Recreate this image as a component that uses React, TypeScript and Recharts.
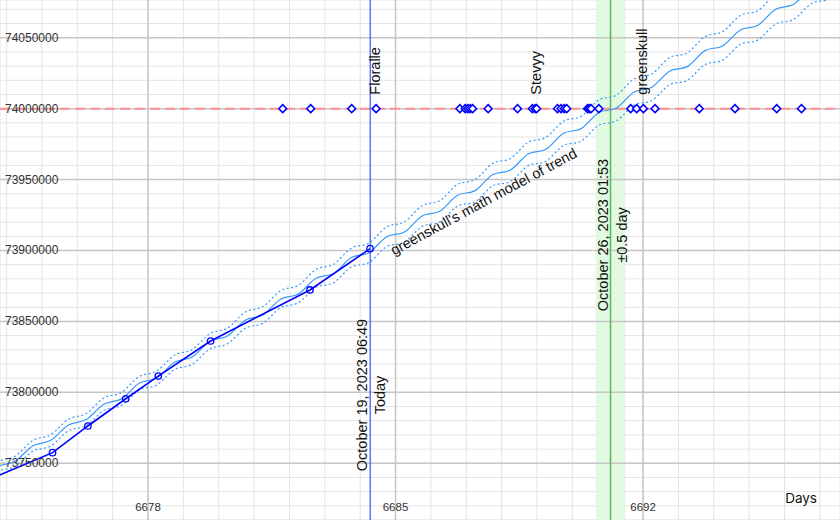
import { ComposedChart, Line, Scatter, XAxis, YAxis, CartesianGrid, ReferenceLine, ReferenceArea, ReferenceDot } from "recharts"

const W = 840
const H = 520
const font = "'Liberation Sans', Arial, sans-serif"

// axis window
const dayDomain = [6673.814, 6697.57]
const valueDomain = [73710030, 74076575]

const majorDays = [6678, 6685, 6692]
const majorValues = [73750000, 73800000, 73850000, 73900000, 73950000, 74000000, 74050000]

const range = (from: number, to: number, step: number) =>
  Array.from({ length: Math.floor((to - from) / step) + 1 }, (_, i) => from + i * step)
const minorDays = range(6674, 6697, 1)
const minorValues = range(73710000, 74070000, 10000)

// observed counts
const actualDays = [6673.0, 6675.3, 6676.3, 6677.37, 6678.29, 6679.77, 6682.58, 6684.28]
const actualValues = [73733200, 73757500, 73776300, 73795500, 73811500, 73836200, 73872200, 73901300]

// model of trend (centre line + spread of dotted band)
const modelDays = [
  6673.25, 6673.75, 6674.25, 6674.75, 6675.25, 6675.75, 6676.25, 6676.75, 6677.25, 6677.75,
  6678.25, 6678.75, 6679.25, 6679.75, 6680.25, 6680.75, 6681.25, 6681.75, 6682.25, 6682.75,
  6683.25, 6683.75, 6684.25, 6684.75, 6685.25, 6685.75, 6686.25, 6686.75, 6687.25, 6687.75,
  6688.25, 6688.75, 6689.25, 6689.75, 6690.25, 6690.75, 6691.25, 6691.75, 6692.25, 6692.75,
  6693.25, 6693.75, 6694.25, 6694.75, 6695.25, 6695.75, 6696.25, 6696.75, 6697.25, 6697.75,
]
const modelMid = [
  73737000, 73747800, 73751600, 73762400, 73766200, 73777000, 73780800, 73791600, 73795400, 73806400,
  73810200, 73821200, 73825000, 73836000, 73839800, 73850900, 73854600, 73865700, 73869300, 73880400,
  73883800, 73895000, 73898400, 73909700, 73913000, 73924300, 73927600, 73938900, 73942200, 73953500,
  73956700, 73968000, 73971300, 73982600, 73985900, 73997200, 74000500, 74011800, 74015100, 74026400,
  74029600, 74040900, 74044200, 74055500, 74058800, 74070100, 74073400, 74084700, 74088000, 74099300,
]
const modelSpread = [
  3300, 3460, 3620, 3780, 3940, 4100, 4260, 4420, 4580, 4740,
  4900, 5060, 5220, 5380, 5540, 5700, 5860, 6020, 6180, 6340,
  6500, 6660, 6820, 6980, 7140, 7300, 7460, 7620, 7780, 7940,
  8100, 8260, 8420, 8580, 8740, 8900, 9060, 9220, 9380, 9540,
  9700, 9860, 10020, 10180, 10340, 10500, 10660, 10820, 10980, 11140,
]

// guesses on the 74M line
const guessValue = 74000000
const guessDays = [
  6681.81, 6682.6, 6683.76, 6684.45, 6686.82, 6686.97, 6687.04, 6687.11, 6687.18, 6687.62,
  6688.45, 6688.87, 6688.95, 6688.99, 6689.58, 6689.68, 6689.77, 6689.84, 6690.43, 6690.48,
  6690.53, 6690.75, 6691.65, 6691.82, 6692.01, 6692.34, 6693.59, 6694.6, 6695.78, 6696.48,
]
const namedGuesses = [
  { name: "Floralle", day: 6684.45 },
  { name: "Stevyy", day: 6688.99 },
  { name: "greenskull", day: 6692.01 },
]

const todayDay = 6684.284
const predictedDay = 6691.08
const predictedBand = [6690.66, 6691.5]

const actualData = actualDays.map((day, i) => ({ day, value: actualValues[i] }))
const modelData = modelDays.map((day, i) => ({
  day,
  mid: modelMid[i],
  upper: modelMid[i] + modelSpread[i],
  lower: modelMid[i] - modelSpread[i],
}))
const guessData = guessDays.map((day) => ({ day, value: guessValue }))

const Diamond = (props: any) => {
  const { cx, cy } = props
  const s = 4
  return (
    <path
      d={`M${cx},${cy - s}L${cx + s},${cy}L${cx},${cy + s}L${cx - s},${cy}Z`}
      fill="#fff"
      stroke="#0000ff"
      strokeWidth={1.5}
    />
  )
}

const XTick = (props: any) => {
  const { x, y, payload } = props
  if (!majorDays.includes(payload.value)) return <g />
  return (
    <text x={x} y={y} textAnchor="middle" dominantBaseline="central" fontSize={11.5} fill="#333" fontFamily={font}>
      {payload.value}
    </text>
  )
}

const YTick = (props: any) => {
  const { x, y, payload } = props
  if (!majorValues.includes(payload.value)) return <g />
  return (
    <text x={x} y={y} textAnchor="start" dominantBaseline="central" fontSize={12} fill="#333" fontFamily={font}>
      {payload.value}
    </text>
  )
}

const nameLabel = (name: string) => (props: any) => {
  const { viewBox } = props
  const cx = viewBox.x + viewBox.width / 2
  const cy = viewBox.y + viewBox.height / 2
  return (
    <text
      transform={`translate(${cx - 1},${cy - 14}) rotate(-90)`}
      textAnchor="start"
      dominantBaseline="central"
      fontSize={14.5}
      fill="#111"
      fontFamily={font}
    >
      {name}
    </text>
  )
}

const dateLabel = (lines: string[], centerY: number, dx: number[]) => (props: any) => {
  const { viewBox } = props
  const y = viewBox.y + centerY
  return (
    <g>
      {lines.map((t, i) => (
        <text
          key={t}
          transform={`translate(${viewBox.x + dx[i]},${y}) rotate(-90)`}
          textAnchor="middle"
          dominantBaseline="central"
          fontSize={14.5}
          fill="#111"
          fontFamily={font}
        >
          {t}
        </text>
      ))}
    </g>
  )
}

const trendLabel = (props: any) => {
  const { viewBox } = props
  const cx = viewBox.x + viewBox.width / 2
  const cy = viewBox.y + viewBox.height / 2
  return (
    <text
      transform={`translate(${cx},${cy}) rotate(-28.3)`}
      textAnchor="middle"
      dominantBaseline="central"
      fontSize={14.5}
      fill="#111"
      fontFamily={font}
    >
      greenskull's math model of trend
    </text>
  )
}

const daysLabel = (props: any) => {
  const { viewBox } = props
  return (
    <text x={viewBox.x + viewBox.width - 23} y={H - 22} textAnchor="end" dominantBaseline="central" fontSize={13.5} fill="#111" fontFamily="Inter, sans-serif">
      Days
    </text>
  )
}

export default function App() {
  return (
    <div style={{ position: "absolute", left: 0, top: 0, width: W, height: H, background: "#fff" }}>
      <ComposedChart width={W} height={H} margin={{ top: 0, right: 0, bottom: 0, left: 0 }}>
        <CartesianGrid stroke="#e4e4e4" strokeWidth={1} />
        <XAxis
          type="number"
          dataKey="day"
          domain={dayDomain}
          allowDataOverflow
          ticks={minorDays}
          interval={0}
          height={30}
          mirror
          axisLine={false}
          tickLine={false}
          tickSize={0}
          tickMargin={13}
          tick={XTick}
          label={daysLabel}
        />
        <YAxis
          type="number"
          domain={valueDomain}
          allowDataOverflow
          ticks={minorValues}
          interval={0}
          width={60}
          mirror
          axisLine={false}
          tickLine={false}
          tickSize={0}
          tickMargin={5}
          tick={YTick}
        />
        {majorDays.map((d) => (
          <ReferenceLine key={`d${d}`} x={d} stroke="#c6c6c6" strokeWidth={1.5} />
        ))}
        {majorValues.map((v) => (
          <ReferenceLine key={`v${v}`} y={v} stroke="#c6c6c6" strokeWidth={1.5} />
        ))}
        <ReferenceArea x1={predictedBand[0]} x2={predictedBand[1]} fill="#dcf9dc" fillOpacity={0.85} stroke="none" />
        <ReferenceLine
          x={predictedDay}
          stroke="#5cb85c"
          strokeWidth={1.5}
          label={dateLabel(["October 26, 2023 01:53", "±0.5 day"], 235, [-7.4, 11])}
        />
        <ReferenceLine y={guessValue} stroke="#ff9090" strokeWidth={2} strokeDasharray="10 5" />
        <Line data={modelData} dataKey="upper" type="natural" stroke="#3399ff" strokeWidth={1.2} strokeDasharray="2 2.5" dot={false} isAnimationActive={false} />
        <Line data={modelData} dataKey="lower" type="natural" stroke="#3399ff" strokeWidth={1.2} strokeDasharray="2 2.5" dot={false} isAnimationActive={false} />
        <Line data={modelData} dataKey="mid" type="natural" stroke="#3399ff" strokeWidth={1.2} dot={false} isAnimationActive={false} />
        <Line
          data={actualData}
          dataKey="value"
          type="linear"
          stroke="#0000ff"
          strokeWidth={1.6}
          dot={{ r: 3.2, stroke: "#0000ff", strokeWidth: 1.3, fill: "none" }}
          isAnimationActive={false}
        />
        <ReferenceLine
          x={todayDay}
          stroke="#3355ff"
          strokeWidth={1.2}
          label={dateLabel(["October 19, 2023 06:49", "Today"], 395, [-8, 9.3])}
        />
        <Scatter data={guessData} dataKey="value" shape={Diamond} isAnimationActive={false} />
        {namedGuesses.map((g) => (
          <ReferenceDot key={g.name} x={g.day} y={guessValue} r={0} fill="none" stroke="none" label={nameLabel(g.name)} />
        ))}
        <ReferenceDot x={6687.49} y={73934500} r={0} fill="none" stroke="none" label={trendLabel} />
      </ComposedChart>
    </div>
  )
}
